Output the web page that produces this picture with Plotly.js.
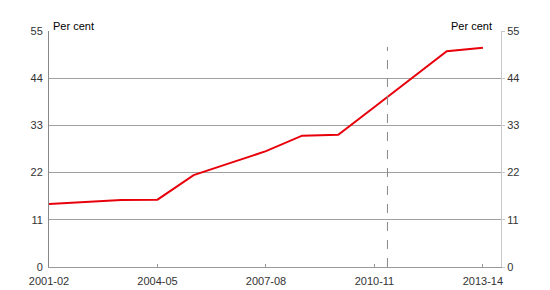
<!DOCTYPE html>
<html><head><meta charset="utf-8">
<script src="https://cdn.plot.ly/plotly-3.0.1.min.js"></script>
<style>html,body{margin:0;padding:0;background:#fff}#c{width:550px;height:290px}</style>
</head><body><div id="c"></div>
<script>
const years = ["2001-02","2002-03","2003-04","2004-05","2005-06","2006-07","2007-08","2008-09","2009-10","2010-11","2011-12","2012-13","2013-14"];
const values = [14.7, 15.2, 15.6, 15.7, 21.4, 24.2, 27.0, 30.6, 30.8, 37.3, 43.8, 50.3, 51.1];
const tickLabels = ["2001-02","2004-05","2007-08","2010-11","2013-14"];
const yTicks = [0, 11, 22, 33, 44, 55];
const dashedAt = 9.36;

const xIdx = years.map((_, i) => i);
const tickIdx = tickLabels.map(t => years.indexOf(t));
const font = {family: "Liberation Sans, Arial, sans-serif", size: 11, color: "#333"};

const data = [
  {x: xIdx, y: values, type: "scatter", mode: "lines", line: {color: "#e8000b", width: 2}, hoverinfo: "skip"},
  {x: xIdx, y: values, type: "scatter", mode: "lines", yaxis: "y2", line: {color: "rgba(0,0,0,0)", width: 0}, hoverinfo: "skip"}
];
const layout = {
  width: 550, height: 290,
  margin: {l: 49, r: 49, t: 31, b: 23},
  paper_bgcolor: "#fff", plot_bgcolor: "#fff",
  showlegend: false,
  font: font,
  xaxis: {range: [0, 12.5], tickvals: tickIdx, ticktext: tickLabels, ticks: "inside", ticklen: 3,
          tickcolor: "#999", showgrid: false, zeroline: false, showline: true, linecolor: "#999", linewidth: 1,
          tickfont: font, ticklabelstandoff: 4, fixedrange: true},
  yaxis: {range: [0, 55], tickvals: yTicks, showgrid: true, gridcolor: "#a0a0a0", gridwidth: 1,
          zeroline: false, showline: true, linecolor: "#888", linewidth: 1, ticks: "", ticklen: 0,
          tickfont: font, ticklabelstandoff: 3, fixedrange: true},
  yaxis2: {range: [0, 55], tickvals: yTicks, overlaying: "y", side: "right", showgrid: false,
           zeroline: false, showline: true, linecolor: "#c8c8c8", linewidth: 1, ticks: "outside", ticklen: 3,
           tickcolor: "#c8c8c8", tickfont: font, fixedrange: true},
  shapes: [
    {type: "line", xref: "x", yref: "y", x0: dashedAt, x1: dashedAt, y0: 0, y1: 51.3, line: {color: "#888", width: 1, dash: "dash"}}
  ],
  annotations: [
    {text: "Per cent", xref: "paper", yref: "paper", x: 0.004, y: 1, yshift: -3, xanchor: "left", yanchor: "bottom", showarrow: false, font: {family: font.family, size: 11, color: "#000"}},
    {text: "Per cent", xref: "paper", yref: "paper", x: 0.985, y: 1, yshift: -3, xanchor: "right", yanchor: "bottom", showarrow: false, font: {family: font.family, size: 11, color: "#000"}}
  ]
};
Plotly.newPlot("c", data, layout, {staticPlot: true, displayModeBar: false});
</script></body></html>
